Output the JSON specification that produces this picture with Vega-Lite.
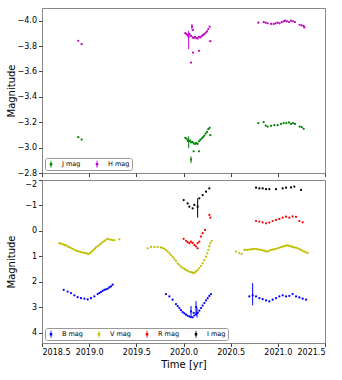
{
"$schema":"https://vega.github.io/schema/vega-lite/v6.json",
"padding":{"left":5,"top":7,"right":5,"bottom":5},
"spacing":7,
"bounds":"flush",
"config":{
"font":"DejaVu Sans",
"view":{"stroke":"#888","strokeWidth":1},
"axis":{"grid":false,"domain":false,"tickColor":"#444","tickSize":3.5,"labelFontSize":8,"labelColor":"#000","titleFontSize":10,"titleFontWeight":"normal","titleColor":"#000","labelPadding":2},
"legend":{"labelFontSize":6.5,"labelColor":"#000"}
},
"resolve":{"scale":{"color":"independent"},"legend":{"color":"independent"}},
"datasets":{
"nir":[
{"b":"H mag","t":2018.885,"m":-3.842},{"b":"H mag","t":2018.920,"m":-3.815},
{"b":"H mag","t":2020.019,"m":-3.902},{"b":"H mag","t":2020.034,"m":-3.894},{"b":"H mag","t":2020.044,"m":-3.884},
{"b":"H mag","t":2020.055,"m":-3.873,"lo":-3.921,"hi":-3.776},{"b":"H mag","t":2020.065,"m":-3.894},{"b":"H mag","t":2020.080,"m":-3.881},
{"b":"H mag","t":2020.090,"m":-3.953,"lo":-3.974,"hi":-3.926},{"b":"H mag","t":2020.101,"m":-3.926},{"b":"H mag","t":2020.097,"m":-3.868},
{"b":"H mag","t":2020.108,"m":-3.863},{"b":"H mag","t":2020.122,"m":-3.873},{"b":"H mag","t":2020.136,"m":-3.863},{"b":"H mag","t":2020.150,"m":-3.860},
{"b":"H mag","t":2020.164,"m":-3.873},{"b":"H mag","t":2020.178,"m":-3.868},{"b":"H mag","t":2020.193,"m":-3.879},{"b":"H mag","t":2020.207,"m":-3.887},
{"b":"H mag","t":2020.221,"m":-3.894},{"b":"H mag","t":2020.235,"m":-3.905},{"b":"H mag","t":2020.249,"m":-3.916},{"b":"H mag","t":2020.263,"m":-3.934},
{"b":"H mag","t":2020.277,"m":-3.953},{"b":"H mag","t":2020.080,"m":-3.670},{"b":"H mag","t":2020.101,"m":-3.749},{"b":"H mag","t":2020.164,"m":-3.763},
{"b":"H mag","t":2020.284,"m":-3.839},
{"b":"H mag","t":2020.793,"m":-3.984},{"b":"H mag","t":2020.850,"m":-3.989},{"b":"H mag","t":2020.871,"m":-3.984},{"b":"H mag","t":2020.892,"m":-3.979},
{"b":"H mag","t":2020.928,"m":-3.974},{"b":"H mag","t":2020.956,"m":-3.974},{"b":"H mag","t":2020.977,"m":-3.979},{"b":"H mag","t":2020.998,"m":-3.984},
{"b":"H mag","t":2021.019,"m":-3.979},{"b":"H mag","t":2021.041,"m":-3.989},{"b":"H mag","t":2021.062,"m":-3.995},{"b":"H mag","t":2021.076,"m":-4.000},
{"b":"H mag","t":2021.097,"m":-3.995},{"b":"H mag","t":2021.118,"m":-3.989},{"b":"H mag","t":2021.140,"m":-4.000},{"b":"H mag","t":2021.161,"m":-3.995},
{"b":"H mag","t":2021.182,"m":-3.989},{"b":"H mag","t":2021.231,"m":-3.968},{"b":"H mag","t":2021.253,"m":-3.963},{"b":"H mag","t":2021.274,"m":-3.958},
{"b":"H mag","t":2021.281,"m":-3.947},
{"b":"J mag","t":2018.885,"m":-3.082},{"b":"J mag","t":2018.920,"m":-3.063},
{"b":"J mag","t":2020.019,"m":-3.077},{"b":"J mag","t":2020.034,"m":-3.069},{"b":"J mag","t":2020.044,"m":-3.055},
{"b":"J mag","t":2020.055,"m":-3.050,"lo":-3.090,"hi":-2.997},{"b":"J mag","t":2020.069,"m":-3.055},{"b":"J mag","t":2020.080,"m":-3.042},
{"b":"J mag","t":2020.094,"m":-3.045},{"b":"J mag","t":2020.108,"m":-3.034},{"b":"J mag","t":2020.122,"m":-3.029},{"b":"J mag","t":2020.136,"m":-3.037},
{"b":"J mag","t":2020.150,"m":-3.029},{"b":"J mag","t":2020.164,"m":-3.050},{"b":"J mag","t":2020.178,"m":-3.061},{"b":"J mag","t":2020.193,"m":-3.071},
{"b":"J mag","t":2020.207,"m":-3.082},{"b":"J mag","t":2020.221,"m":-3.095},{"b":"J mag","t":2020.235,"m":-3.111},{"b":"J mag","t":2020.249,"m":-3.124},
{"b":"J mag","t":2020.263,"m":-3.145},{"b":"J mag","t":2020.277,"m":-3.156},
{"b":"J mag","t":2020.080,"m":-2.905,"lo":-2.931,"hi":-2.879},{"b":"J mag","t":2020.108,"m":-2.971},{"b":"J mag","t":2020.164,"m":-2.971},{"b":"J mag","t":2020.284,"m":-3.098},
{"b":"J mag","t":2020.793,"m":-3.193},{"b":"J mag","t":2020.850,"m":-3.201},{"b":"J mag","t":2020.871,"m":-3.174},{"b":"J mag","t":2020.892,"m":-3.166},
{"b":"J mag","t":2020.928,"m":-3.172},{"b":"J mag","t":2020.963,"m":-3.177},{"b":"J mag","t":2020.998,"m":-3.177},{"b":"J mag","t":2021.034,"m":-3.187},
{"b":"J mag","t":2021.062,"m":-3.193},{"b":"J mag","t":2021.090,"m":-3.193},{"b":"J mag","t":2021.118,"m":-3.198},{"b":"J mag","t":2021.140,"m":-3.187},
{"b":"J mag","t":2021.161,"m":-3.193},{"b":"J mag","t":2021.182,"m":-3.187},{"b":"J mag","t":2021.231,"m":-3.166},{"b":"J mag","t":2021.253,"m":-3.161},
{"b":"J mag","t":2021.274,"m":-3.148}
],
"opt":[
{"b":"V mag","t":2018.684,"m":0.48},{"b":"V mag","t":2018.700,"m":0.50},{"b":"V mag","t":2018.719,"m":0.52},{"b":"V mag","t":2018.737,"m":0.55},{"b":"V mag","t":2018.754,"m":0.57},
{"b":"V mag","t":2018.772,"m":0.61},{"b":"V mag","t":2018.790,"m":0.64},{"b":"V mag","t":2018.808,"m":0.67},{"b":"V mag","t":2018.825,"m":0.70},{"b":"V mag","t":2018.843,"m":0.74},
{"b":"V mag","t":2018.860,"m":0.77},{"b":"V mag","t":2018.878,"m":0.79},{"b":"V mag","t":2018.896,"m":0.81},{"b":"V mag","t":2018.913,"m":0.83},{"b":"V mag","t":2018.931,"m":0.85},
{"b":"V mag","t":2018.950,"m":0.86},{"b":"V mag","t":2018.966,"m":0.87},{"b":"V mag","t":2018.980,"m":0.89},{"b":"V mag","t":2018.991,"m":0.91},{"b":"V mag","t":2019.005,"m":0.88},
{"b":"V mag","t":2019.019,"m":0.84},{"b":"V mag","t":2019.034,"m":0.79},{"b":"V mag","t":2019.048,"m":0.74},{"b":"V mag","t":2019.060,"m":0.70},{"b":"V mag","t":2019.072,"m":0.65},
{"b":"V mag","t":2019.090,"m":0.60},{"b":"V mag","t":2019.108,"m":0.55},{"b":"V mag","t":2019.125,"m":0.50},{"b":"V mag","t":2019.143,"m":0.44},{"b":"V mag","t":2019.160,"m":0.40},
{"b":"V mag","t":2019.178,"m":0.35},{"b":"V mag","t":2019.196,"m":0.31},{"b":"V mag","t":2019.213,"m":0.33},{"b":"V mag","t":2019.231,"m":0.35},{"b":"V mag","t":2019.250,"m":0.36},
{"b":"V mag","t":2019.267,"m":0.37},{"b":"V mag","t":2019.320,"m":0.33},
{"b":"V mag","t":2019.620,"m":0.68},{"b":"V mag","t":2019.655,"m":0.63},{"b":"V mag","t":2019.691,"m":0.64},{"b":"V mag","t":2019.726,"m":0.63},{"b":"V mag","t":2019.761,"m":0.65},
{"b":"V mag","t":2019.780,"m":0.67},{"b":"V mag","t":2019.797,"m":0.70},{"b":"V mag","t":2019.815,"m":0.75},{"b":"V mag","t":2019.832,"m":0.81},{"b":"V mag","t":2019.850,"m":0.87},
{"b":"V mag","t":2019.867,"m":0.94},{"b":"V mag","t":2019.885,"m":1.02},{"b":"V mag","t":2019.903,"m":1.10},{"b":"V mag","t":2019.920,"m":1.18},{"b":"V mag","t":2019.938,"m":1.27},
{"b":"V mag","t":2019.955,"m":1.33},{"b":"V mag","t":2019.973,"m":1.40},{"b":"V mag","t":2019.990,"m":1.45},{"b":"V mag","t":2020.009,"m":1.49},{"b":"V mag","t":2020.025,"m":1.53},
{"b":"V mag","t":2020.044,"m":1.57},{"b":"V mag","t":2020.062,"m":1.60},{"b":"V mag","t":2020.080,"m":1.62},{"b":"V mag","t":2020.095,"m":1.64},{"b":"V mag","t":2020.108,"m":1.66},
{"b":"V mag","t":2020.120,"m":1.63},{"b":"V mag","t":2020.133,"m":1.59},{"b":"V mag","t":2020.150,"m":1.53},{"b":"V mag","t":2020.168,"m":1.46},{"b":"V mag","t":2020.185,"m":1.37},
{"b":"V mag","t":2020.203,"m":1.27},{"b":"V mag","t":2020.220,"m":1.15},{"b":"V mag","t":2020.239,"m":1.01},{"b":"V mag","t":2020.252,"m":0.88},{"b":"V mag","t":2020.263,"m":0.74},
{"b":"V mag","t":2020.274,"m":0.60},{"b":"V mag","t":2020.284,"m":0.48},{"b":"V mag","t":2020.299,"m":0.39},
{"b":"V mag","t":2020.557,"m":0.81},{"b":"V mag","t":2020.592,"m":0.87},{"b":"V mag","t":2020.617,"m":0.91},{"b":"V mag","t":2020.645,"m":0.74},{"b":"V mag","t":2020.662,"m":0.74},
{"b":"V mag","t":2020.680,"m":0.74},{"b":"V mag","t":2020.698,"m":0.73},{"b":"V mag","t":2020.716,"m":0.72},{"b":"V mag","t":2020.733,"m":0.71},{"b":"V mag","t":2020.751,"m":0.70},
{"b":"V mag","t":2020.769,"m":0.71},{"b":"V mag","t":2020.786,"m":0.72},{"b":"V mag","t":2020.804,"m":0.73},{"b":"V mag","t":2020.822,"m":0.74},{"b":"V mag","t":2020.840,"m":0.76},
{"b":"V mag","t":2020.857,"m":0.78},{"b":"V mag","t":2020.875,"m":0.80},{"b":"V mag","t":2020.892,"m":0.81},{"b":"V mag","t":2020.910,"m":0.77},{"b":"V mag","t":2020.928,"m":0.74},
{"b":"V mag","t":2020.945,"m":0.73},{"b":"V mag","t":2020.963,"m":0.72},{"b":"V mag","t":2020.980,"m":0.70},{"b":"V mag","t":2020.998,"m":0.68},{"b":"V mag","t":2021.016,"m":0.66},
{"b":"V mag","t":2021.034,"m":0.64},{"b":"V mag","t":2021.051,"m":0.62},{"b":"V mag","t":2021.069,"m":0.60},{"b":"V mag","t":2021.087,"m":0.58},{"b":"V mag","t":2021.104,"m":0.57},
{"b":"V mag","t":2021.122,"m":0.59},{"b":"V mag","t":2021.140,"m":0.61},{"b":"V mag","t":2021.157,"m":0.63},{"b":"V mag","t":2021.175,"m":0.65},{"b":"V mag","t":2021.193,"m":0.66},
{"b":"V mag","t":2021.210,"m":0.68},{"b":"V mag","t":2021.228,"m":0.71},{"b":"V mag","t":2021.246,"m":0.74},{"b":"V mag","t":2021.263,"m":0.78},{"b":"V mag","t":2021.281,"m":0.81},
{"b":"V mag","t":2021.299,"m":0.84},{"b":"V mag","t":2021.316,"m":0.87},
{"b":"B mag","t":2018.730,"m":2.31},{"b":"B mag","t":2018.772,"m":2.38},{"b":"B mag","t":2018.807,"m":2.44},{"b":"B mag","t":2018.843,"m":2.53},{"b":"B mag","t":2018.878,"m":2.60},
{"b":"B mag","t":2018.913,"m":2.64},{"b":"B mag","t":2018.949,"m":2.66},{"b":"B mag","t":2018.984,"m":2.69},{"b":"B mag","t":2019.019,"m":2.64},{"b":"B mag","t":2019.055,"m":2.57},
{"b":"B mag","t":2019.090,"m":2.48},{"b":"B mag","t":2019.108,"m":2.44},{"b":"B mag","t":2019.125,"m":2.40},{"b":"B mag","t":2019.143,"m":2.35},{"b":"B mag","t":2019.161,"m":2.31},
{"b":"B mag","t":2019.178,"m":2.29},{"b":"B mag","t":2019.196,"m":2.27},{"b":"B mag","t":2019.213,"m":2.22},{"b":"B mag","t":2019.231,"m":2.18},{"b":"B mag","t":2019.249,"m":2.11},
{"b":"B mag","t":2019.814,"m":2.48},{"b":"B mag","t":2019.850,"m":2.57},{"b":"B mag","t":2019.885,"m":2.70},{"b":"B mag","t":2019.920,"m":2.87},{"b":"B mag","t":2019.938,"m":2.95},
{"b":"B mag","t":2019.956,"m":3.03},{"b":"B mag","t":2019.973,"m":3.11},{"b":"B mag","t":2019.991,"m":3.19},{"b":"B mag","t":2020.009,"m":3.24},{"b":"B mag","t":2020.027,"m":3.29},
{"b":"B mag","t":2020.044,"m":3.33},{"b":"B mag","t":2020.062,"m":3.36},{"b":"B mag","t":2020.080,"m":3.38},{"b":"B mag","t":2020.097,"m":3.39},{"b":"B mag","t":2020.115,"m":3.32},
{"b":"B mag","t":2020.133,"m":3.28},{"b":"B mag","t":2020.150,"m":3.22},{"b":"B mag","t":2020.168,"m":3.13},{"b":"B mag","t":2020.186,"m":3.03},{"b":"B mag","t":2020.203,"m":2.93},
{"b":"B mag","t":2020.221,"m":2.83},{"b":"B mag","t":2020.239,"m":2.73},{"b":"B mag","t":2020.256,"m":2.64},{"b":"B mag","t":2020.274,"m":2.55},{"b":"B mag","t":2020.292,"m":2.48},
{"b":"B mag","t":2020.080,"m":3.16,"lo":2.95,"hi":3.35},{"b":"B mag","t":2020.133,"m":2.99,"lo":2.75,"hi":3.25},{"b":"B mag","t":2020.143,"m":3.22,"lo":3.0,"hi":3.4},{"b":"B mag","t":2020.108,"m":3.22},
{"b":"B mag","t":2020.698,"m":2.57},{"b":"B mag","t":2020.733,"m":2.53,"lo":2.05,"hi":2.92},{"b":"B mag","t":2020.769,"m":2.57},{"b":"B mag","t":2020.804,"m":2.64},{"b":"B mag","t":2020.839,"m":2.68},
{"b":"B mag","t":2020.875,"m":2.73},{"b":"B mag","t":2020.910,"m":2.77},{"b":"B mag","t":2020.945,"m":2.70},{"b":"B mag","t":2020.981,"m":2.64},{"b":"B mag","t":2021.016,"m":2.57},
{"b":"B mag","t":2021.051,"m":2.53},{"b":"B mag","t":2021.087,"m":2.57},{"b":"B mag","t":2021.122,"m":2.55},{"b":"B mag","t":2021.157,"m":2.48},{"b":"B mag","t":2021.193,"m":2.57},
{"b":"B mag","t":2021.228,"m":2.61},{"b":"B mag","t":2021.263,"m":2.66},{"b":"B mag","t":2021.299,"m":2.70},
{"b":"R mag","t":2020.002,"m":0.31},{"b":"R mag","t":2020.027,"m":0.39},{"b":"R mag","t":2020.044,"m":0.44},{"b":"R mag","t":2020.062,"m":0.48},{"b":"R mag","t":2020.080,"m":0.42},
{"b":"R mag","t":2020.097,"m":0.47},{"b":"R mag","t":2020.115,"m":0.55},{"b":"R mag","t":2020.133,"m":0.61},{"b":"R mag","t":2020.150,"m":0.68},{"b":"R mag","t":2020.150,"m":0.48},
{"b":"R mag","t":2020.168,"m":0.42},{"b":"R mag","t":2020.186,"m":0.22},{"b":"R mag","t":2020.203,"m":0.09},{"b":"R mag","t":2020.228,"m":-0.04},{"b":"R mag","t":2020.274,"m":-0.63},
{"b":"R mag","t":2020.284,"m":-0.52},
{"b":"R mag","t":2020.769,"m":-0.39},{"b":"R mag","t":2020.804,"m":-0.37},{"b":"R mag","t":2020.839,"m":-0.34},{"b":"R mag","t":2020.875,"m":-0.30},{"b":"R mag","t":2020.910,"m":-0.33},
{"b":"R mag","t":2020.945,"m":-0.39},{"b":"R mag","t":2020.981,"m":-0.43},{"b":"R mag","t":2021.016,"m":-0.47},{"b":"R mag","t":2021.051,"m":-0.52},{"b":"R mag","t":2021.087,"m":-0.56},
{"b":"R mag","t":2021.122,"m":-0.52},{"b":"R mag","t":2021.157,"m":-0.57},{"b":"R mag","t":2021.193,"m":-0.55},{"b":"R mag","t":2021.228,"m":-0.39},{"b":"R mag","t":2021.263,"m":-0.34},
{"b":"I mag","t":2020.002,"m":-1.21},{"b":"I mag","t":2020.044,"m":-1.08},{"b":"I mag","t":2020.062,"m":-0.95},{"b":"I mag","t":2020.097,"m":-0.89},{"b":"I mag","t":2020.115,"m":-1.02},
{"b":"I mag","t":2020.150,"m":-0.95,"lo":-1.28,"hi":-0.52},{"b":"I mag","t":2020.168,"m":-1.28},{"b":"I mag","t":2020.203,"m":-1.41},{"b":"I mag","t":2020.239,"m":-1.54},{"b":"I mag","t":2020.274,"m":-1.67},
{"b":"I mag","t":2020.769,"m":-1.70},{"b":"I mag","t":2020.804,"m":-1.67},{"b":"I mag","t":2020.839,"m":-1.67},{"b":"I mag","t":2020.875,"m":-1.64},{"b":"I mag","t":2020.910,"m":-1.64},
{"b":"I mag","t":2020.981,"m":-1.64},{"b":"I mag","t":2021.051,"m":-1.67},{"b":"I mag","t":2021.087,"m":-1.70},{"b":"I mag","t":2021.140,"m":-1.71},{"b":"I mag","t":2021.175,"m":-1.74},
{"b":"I mag","t":2021.246,"m":-1.61}
]
},
"vconcat":[
{
"width":283,"height":165,
"data":{"name":"nir"},
"encoding":{
"x":{"field":"t","type":"quantitative","scale":{"domain":[2018.5,2021.5],"nice":false,"zero":false},"axis":{"values":[2018.5,2019,2019.5,2020,2020.5,2021,2021.5],"labels":false,"title":null}},
"y":{"field":"m","type":"quantitative","scale":{"domain":[-4.1,-2.8],"reverse":true,"nice":false,"zero":false},"axis":{"values":[-4.0,-3.8,-3.6,-3.4,-3.2,-3.0,-2.8],"format":".1f","title":"Magnitude","minExtent":25,"maxExtent":25,"titlePadding":1}},
"color":{"field":"b","type":"nominal","scale":{"domain":["J mag","H mag"],"range":["#008000","#bf00bf"]},"legend":{"title":null,"orient":"bottom-left","direction":"horizontal","offset":3,"symbolType":"M-0.12,-1H0.12V1H-0.12Z M-0.35,-0.35H0.35V0.35H-0.35Z","symbolStrokeWidth":0,"symbolSize":50,"symbolOpacity":1,"strokeColor":"#999","cornerRadius":2,"padding":2,"columnPadding":12,"labelOffset":7}}
},
"layer":[
{"transform":[{"filter":"isValid(datum.lo)"}],"mark":{"type":"rule","strokeWidth":1},"encoding":{"y":{"field":"lo","type":"quantitative"},"y2":{"field":"hi"}}},
{"mark":{"type":"circle","size":5,"opacity":1}}
]
},
{
"width":283,"height":163,
"data":{"name":"opt"},
"encoding":{
"x":{"field":"t","type":"quantitative","scale":{"domain":[2018.5,2021.5],"nice":false,"zero":false},"axis":{"values":[2018.5,2019,2019.5,2020,2020.5,2021,2021.5],"format":".1f","title":"Time [yr]","titlePadding":3}},
"y":{"field":"m","type":"quantitative","scale":{"domain":[-2,4.4],"reverse":true,"nice":false,"zero":false},"axis":{"values":[-2,-1,0,1,2,3,4],"format":"d","title":"Magnitude","minExtent":25,"maxExtent":25,"titlePadding":1,"labelFlush":true}},
"color":{"field":"b","type":"nominal","scale":{"domain":["B mag","V mag","R mag","I mag"],"range":["#0000ff","#bfbf00","#ff0000","#000000"]},"legend":{"title":null,"orient":"bottom-left","direction":"horizontal","offset":3,"symbolType":"M-0.12,-1H0.12V1H-0.12Z M-0.35,-0.35H0.35V0.35H-0.35Z","symbolStrokeWidth":0,"symbolSize":50,"symbolOpacity":1,"strokeColor":"#999","cornerRadius":2,"padding":2,"columnPadding":12,"labelOffset":7}}
},
"layer":[
{"transform":[{"filter":"isValid(datum.lo)"}],"mark":{"type":"rule","strokeWidth":1},"encoding":{"y":{"field":"lo","type":"quantitative"},"y2":{"field":"hi"}}},
{"mark":{"type":"circle","size":5,"opacity":1}}
]
}
]
}
